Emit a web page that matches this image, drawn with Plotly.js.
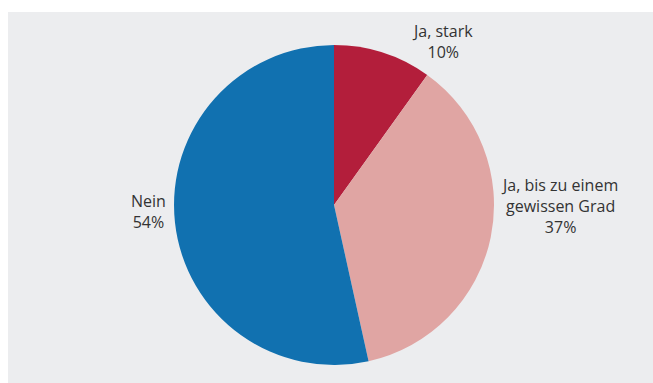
<!DOCTYPE html>
<html><head><meta charset="utf-8">
<script src="https://cdn.plot.ly/plotly-3.0.1.min.js"></script>
<style>html,body{margin:0;padding:0;background:#fff;}#chart{position:absolute;left:8px;top:12px;width:645px;height:371px;}</style>
</head><body><div id="chart"></div>
<script>
const labels = ["Ja, stark", "Ja, bis zu einem<br>gewissen Grad", "Nein"];
const values = [10, 37, 54];
const colors = ["#b31e3b", "#e0a5a3", "#1171b0"];

// label placement (paper coordinates), layout only
const labelPos = [[0.6744, 0.9205], [0.8558, 0.4771], [0.2171, 0.4636]];

const trace = {
  type: "pie",
  labels: labels,
  values: values,
  sort: false,
  direction: "clockwise",
  rotation: 0,
  marker: {colors: colors, line: {width: 0}},
  textinfo: "none",
  hoverinfo: "none",
  automargin: false,
  domain: {x: [0.2574, 0.7535], y: [0.0485, 0.911]}
};
const annotations = labels.map((lab, i) => ({
  xref: "paper", yref: "paper",
  x: labelPos[i][0], y: labelPos[i][1],
  xanchor: "center", yanchor: "middle",
  align: "center",
  showarrow: false,
  text: lab + "<br>" + values[i] + "%",
  font: {family: "Open Sans, sans-serif", size: 16, color: "#333333"}
}));
const layout = {
  width: 645, height: 371,
  margin: {l: 0, r: 0, t: 0, b: 0},
  paper_bgcolor: "#ecedef",
  showlegend: false,
  annotations: annotations
};
Plotly.newPlot("chart", [trace], layout, {displayModeBar: false, staticPlot: true});
</script></body></html>
